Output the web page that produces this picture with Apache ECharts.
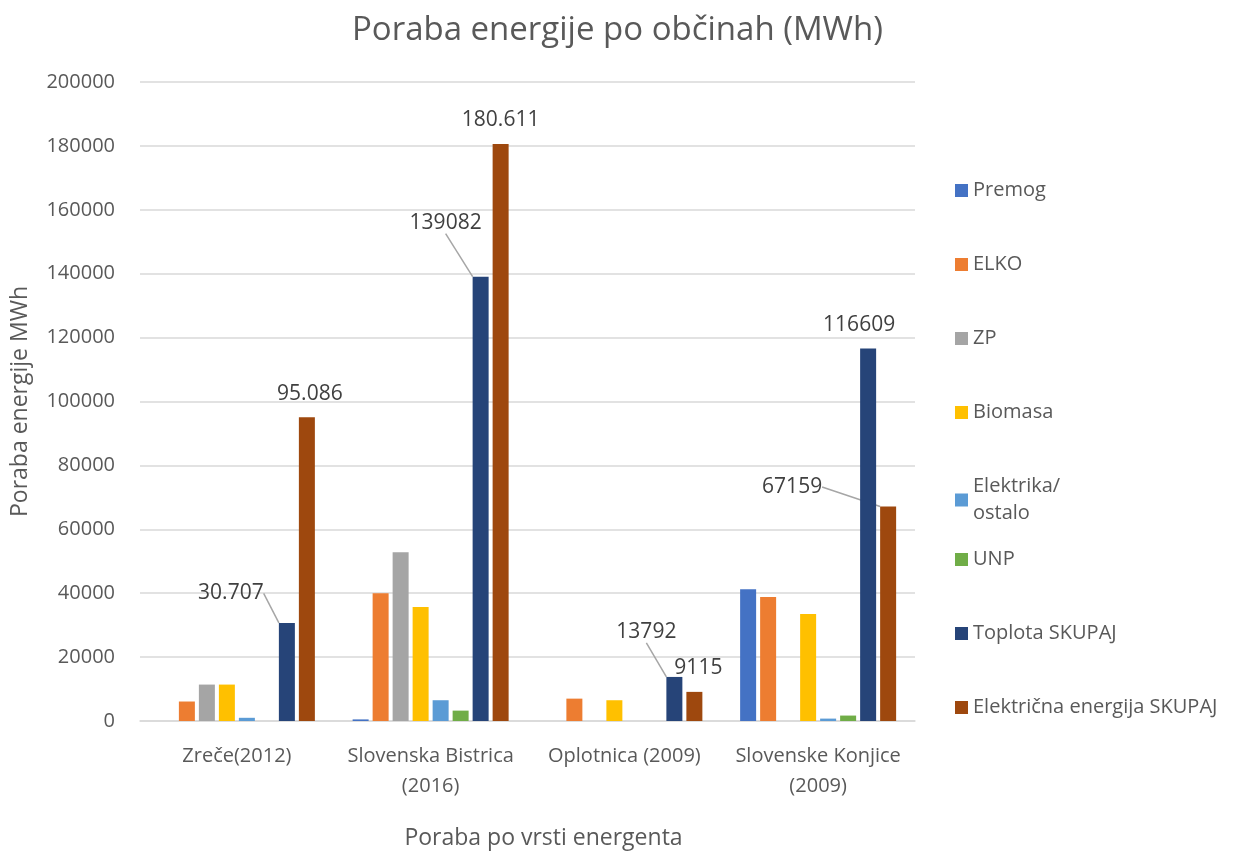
<!DOCTYPE html>
<html>
<head>
<meta charset="utf-8">
<script src="https://cdn.jsdelivr.net/npm/echarts@6/dist/echarts.min.js"></script>
<style>
  html, body { margin: 0; padding: 0; background: #fff; }
  #main { width: 1235px; height: 852px; }
</style>
</head>
<body>
<div id="main"></div>
<script>
// podatki
var obcine = ['Zreče(2012)', 'Slovenska Bistrica\n(2016)', 'Oplotnica (2009)', 'Slovenske Konjice\n(2009)'];
var yTicks = [0, 20000, 40000, 60000, 80000, 100000, 120000, 140000, 160000, 180000, 200000];

var premog = [0, 500, 0, 41200];
var elko = [6100, 40000, 7000, 38800];
var zp = [11400, 52800, 0, 0];
var biomasa = [11400, 35700, 6500, 33500];
var elektrika = [1000, 6500, 0, 750];
var unp = [0, 3250, 0, 1700];
var toplota = [30707, 139082, 13792, 116609];
var elektricna = [95086, 180611, 9115, 67159];

var toplotaLabels = ['30.707', '139082', '13792', '116609'];
var elektricnaLabels = ['95.086', '180.611', '9115', '67159'];

var imena = ['Premog', 'ELKO', 'ZP', 'Biomasa', 'Elektrika/ostalo', 'UNP', 'Toplota SKUPAJ', 'Električna energija SKUPAJ'];
var barve = ['#4472C4', '#ED7D31', '#A5A5A5', '#FFC000', '#5B9BD5', '#70AD47', '#264478', '#9E480E'];
var vrednosti = [premog, elko, zp, biomasa, elektrika, unp, toplota, elektricna];

var font = 'Open Sans, sans-serif';
var siva = '#595959';

// premiki oznak (dx, dy) za posamezne stolpce
var premikiToplota = [[-56, -6], [-35, -30], [-28, -21], [-9, 0]];
var premikiElektricna = [[3, 0], [0, 0], [4, 0], [-96, 4]];
var crtaToplota = [true, true, true, false];
var crtaElektricna = [false, false, false, true];

function naredi(i) {
    var s = {
        name: imena[i],
        type: 'bar',
        barWidth: 16,
        barGap: '25%',
        itemStyle: { color: barve[i] },
        data: vrednosti[i]
    };
    if (i === 6 || i === 7) {
        var oznake = i === 6 ? toplotaLabels : elektricnaLabels;
        var premiki = i === 6 ? premikiToplota : premikiElektricna;
        var crte = i === 6 ? crtaToplota : crtaElektricna;
        s.data = vrednosti[i].map(function (v, k) {
            return {
                value: v,
                labelLine: { show: crte[k], lineStyle: { color: '#a6a6a6', width: 1.5 } }
            };
        });
        s.label = {
            show: true,
            position: 'top',
            distance: 13,
            fontFamily: font,
            fontSize: 21,
            color: '#404040',
            formatter: function (p) { return oznake[p.dataIndex]; }
        };
        s.labelLayout = function (p) {
            var d = premiki[p.dataIndex];
            return { dx: d[0], dy: d[1] };
        };
    }
    return s;
}

var serije = [];
for (var i = 0; i < imena.length; i++) serije.push(naredi(i));

var legendaText = { fontFamily: font, fontSize: 20, color: siva, lineHeight: 27 };
var legendaFormat = function (n) { return n === 'Elektrika/ostalo' ? 'Elektrika/\nostalo' : n; };

var myChart = echarts.init(document.getElementById('main'));
var option = {
    animation: false,
    title: {
        text: 'Poraba energije po občinah (MWh)',
        left: 'center',
        top: 9,
        textStyle: { fontFamily: font, fontSize: 33, fontWeight: 'normal', color: siva }
    },
    legend: [{
        orient: 'vertical',
        left: 950,
        top: 172,
        itemWidth: 13,
        itemHeight: 13,
        itemGap: 47,
        icon: 'rect',
        data: imena.slice(0, 5),
        formatter: legendaFormat,
        textStyle: legendaText
    }, {
        orient: 'vertical',
        left: 950,
        top: 541,
        itemWidth: 13,
        itemHeight: 13,
        itemGap: 47,
        icon: 'rect',
        data: imena.slice(5),
        formatter: legendaFormat,
        textStyle: legendaText
    }],
    grid: { left: 140, right: 320, top: 82, bottom: 131, outerBoundsMode: 'none', containLabel: false },
    xAxis: {
        type: 'category',
        data: obcine,
        name: 'Poraba po vrsti energenta',
        nameLocation: 'middle',
        nameGap: 106,
        nameTextStyle: { fontFamily: font, fontSize: 23, color: siva, padding: [0, 0, 0, 32] },
        axisLine: { lineStyle: { color: '#d9d9d9', width: 1.5 } },
        axisTick: { show: false },
        axisLabel: { fontFamily: font, fontSize: 20, color: siva, margin: 20, lineHeight: 30, interval: 0 }
    },
    yAxis: {
        type: 'value',
        min: yTicks[0],
        max: yTicks[yTicks.length - 1],
        interval: yTicks[1] - yTicks[0],
        name: 'Poraba energije MWh',
        nameLocation: 'middle',
        nameGap: 108,
        nameTextStyle: { fontFamily: font, fontSize: 23, color: siva },
        axisLine: { show: false },
        axisTick: { show: false },
        axisLabel: {
            fontFamily: font, fontSize: 20, color: siva, margin: 25,
            formatter: function (v) { return String(v); }
        },
        splitLine: { lineStyle: { color: '#d9d9d9', width: 1.5 } }
    },
    series: serije
};
myChart.setOption(option);
</script>
</body>
</html>
